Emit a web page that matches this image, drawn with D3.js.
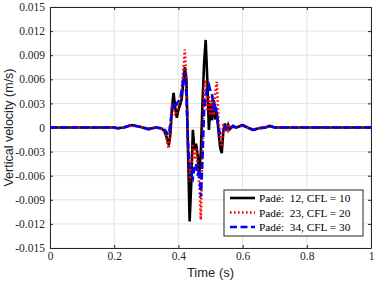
<!DOCTYPE html>
<html>
<head>
<meta charset="utf-8">
<script src="https://cdn.jsdelivr.net/npm/d3@7"></script>
<style>
body { margin: 0; background: #fff; }
</style>
</head>
<body>
<div class="forshow"></div>
<script>
var time = [0, 0.1, 0.2, 0.21, 0.23, 0.254, 0.28, 0.306, 0.33, 0.345,
	0.35, 0.355, 0.36, 0.365, 0.37, 0.375, 0.38, 0.385, 0.39, 0.395,
	0.40, 0.405, 0.41, 0.415, 0.42, 0.425, 0.43, 0.435, 0.44, 0.445,
	0.45, 0.455, 0.46, 0.465, 0.47, 0.475, 0.48, 0.485, 0.49, 0.495,
	0.50, 0.505, 0.51, 0.515, 0.52, 0.525, 0.53, 0.535, 0.54, 0.545,
	0.55, 0.555, 0.56, 0.57, 0.58, 0.6, 0.615, 0.633, 0.65, 0.67, 0.685, 0.7, 0.85, 1]

var pade12 = [0, 0, 0, -0.0001, 0, 0.0003, 0.0001, -0.0002, 0, -0.0001,
	-0.0002, -0.0004, -0.0008, -0.0014, -0.0022, -0.0008, 0.0025, 0.0043, 0.0025, 0.0012,
	0.0022, 0.0028, 0.0035, 0.0055, 0.0075, 0.006, -0.003, -0.0117, -0.007, -0.0003,
	-0.0028, -0.002, -0.0035, -0.0057, -0.003, 0.003, 0.008, 0.0109, 0.006, -0.0003,
	0.003, 0.0009, 0.0034, 0.001, 0.0018, -0.0005, -0.0025, -0.0032, -0.0005, 0.0005,
	-0.0004, 0.0003, -0.0002, 0.0002, 0, 0.0003, 0, -0.0003, -0.0001, 0, 0.0002, 0, 0, 0]

var pade23 = [0, 0, 0, -0.0001, 0, 0.0003, 0.0001, -0.0002, 0, -0.0001,
	-0.0002, -0.0004, -0.0009, -0.0018, -0.0026, -0.001, 0.0026, 0.0022, 0.0015, 0.002,
	0.0028, 0.003, 0.0045, 0.007, 0.0097, 0.006, -0.002, -0.0067, -0.005, -0.002,
	-0.004, -0.0025, -0.005, -0.007, -0.0115, -0.002, 0.005, 0.0059, 0.002, 0.004,
	0.0015, 0.0035, 0.0015, 0.0045, 0.0057, 0.001, -0.0018, -0.0024, 0.0005, -0.0006,
	0.0004, -0.0003, 0.0002, 0.0001, 0, 0.0003, 0, -0.0003, -0.0001, 0, 0.0002, 0, 0, 0]

var pade34 = [0, 0, 0, -0.0001, 0, 0.0003, 0.0001, -0.0002, 0, -0.0001,
	-0.0001, -0.0002, -0.0004, -0.0007, -0.0009, 0.0005, 0.0022, 0.0028, 0.0025, 0.003,
	0.0032, 0.0035, 0.0045, 0.006, 0.0069, 0.004, -0.002, -0.005, -0.0058, -0.0063,
	-0.005, -0.0045, -0.006, -0.0052, -0.0086, -0.004, 0.002, 0.004, 0.0048, 0.0053,
	0.0045, 0.004, 0.0025, 0.003, 0.0015, -0.0002, -0.0007, -0.0005, -0.0003, 0.0001,
	-0.0001, 0.0001, 0, 0.0001, 0, 0.0003, 0, -0.0003, -0.0001, 0, 0.0002, 0, 0, 0]

var xTicks = [0, 0.2, 0.4, 0.6, 0.8, 1]
var yTicks = [-0.015, -0.012, -0.009, -0.006, -0.003, 0, 0.003, 0.006, 0.009, 0.012, 0.015]
var legendLabels = ["Padé:  12, CFL = 10", "Padé:  23, CFL = 20", "Padé:  34, CFL = 30"]

var series = [
	{ name: legendLabels[0], values: pade12, color: "#000", dash: null, width: 2.6 },
	{ name: legendLabels[1], values: pade23, color: "#ff0000", dash: "1.6,2.4", width: 2.6 },
	{ name: legendLabels[2], values: pade34, color: "#0000ff", dash: "7,3.5", width: 2.6 }
]

var W = 374, H = 282
var m = { left: 50, right: 3, top: 7, bottom: 34 }

var svg = d3.select(".forshow").append("svg")
	.attr("width", W)
	.attr("height", H)

var x = d3.scaleLinear().domain([0, 1]).range([m.left, W - m.right])
var y = d3.scaleLinear().domain([-0.015, 0.015]).range([H - m.bottom, m.top])

// grid
svg.append("g").selectAll("line.gx")
	.data(xTicks)
	.enter().append("line")
	.attr("x1", function(d) { return x(d) })
	.attr("x2", function(d) { return x(d) })
	.attr("y1", y(-0.015))
	.attr("y2", y(0.015))
	.attr("stroke", "#e3e3e3")
	.attr("stroke-width", 1)
svg.append("g").selectAll("line.gy")
	.data(yTicks)
	.enter().append("line")
	.attr("x1", x(0))
	.attr("x2", x(1))
	.attr("y1", function(d) { return y(d) })
	.attr("y2", function(d) { return y(d) })
	.attr("stroke", "#e3e3e3")
	.attr("stroke-width", 1)

var fmt = function(d) { return d == 0 ? "0" : d3.format(".3f")(d).replace("−", "-") }
var tickFont = "'Liberation Serif', 'DejaVu Serif', serif"

var xAxis = svg.append("g")
	.attr("transform", "translate(0," + y(-0.015) + ")")
	.call(d3.axisBottom(x).tickValues(xTicks).tickSizeInner(-3).tickSizeOuter(0).tickPadding(4)
		.tickFormat(function(d) { return d == 0 || d == 1 ? d3.format("d")(d) : d3.format(".1f")(d) }))
var yAxis = svg.append("g")
	.attr("transform", "translate(" + x(0) + ",0)")
	.call(d3.axisLeft(y).tickValues(yTicks).tickSizeInner(-3).tickSizeOuter(0).tickPadding(5)
		.tickFormat(fmt))
var xTop = svg.append("g")
	.attr("transform", "translate(0," + y(0.015) + ")")
	.call(d3.axisTop(x).tickValues(xTicks).tickSizeInner(-3).tickSizeOuter(0).tickFormat(""))
var yRight = svg.append("g")
	.attr("transform", "translate(" + x(1) + ",0)")
	.call(d3.axisRight(y).tickValues(yTicks).tickSizeInner(-3).tickSizeOuter(0).tickFormat(""))

svg.selectAll(".domain").attr("stroke", "#262626").attr("stroke-width", 1)
svg.selectAll(".tick line").attr("stroke", "#262626")
svg.selectAll(".tick text")
	.attr("font-family", tickFont)
	.attr("font-size", 11.5)
	.attr("fill", "#262626")

// lines
var line = d3.line()
	.x(function(d, i) { return x(time[i]) })
	.y(function(d) { return y(d) })

var plot = svg.append("g")
plot.selectAll("path")
	.data(series)
	.enter().append("path")
	.attr("d", function(d) { return line(d.values) })
	.attr("fill", "none")
	.attr("stroke", function(d) { return d.color })
	.attr("stroke-width", function(d) { return d.width })
	.attr("stroke-dasharray", function(d) { return d.dash })
	.attr("stroke-linejoin", "miter")

// axis labels
svg.append("text")
	.attr("x", (x(0) + x(1)) / 2)
	.attr("y", 277)
	.attr("text-anchor", "middle")
	.attr("font-family", "'Liberation Sans', Arial, sans-serif")
	.attr("font-size", 13)
	.attr("fill", "#262626")
	.text("Time (s)")
svg.append("text")
	.attr("transform", "translate(13," + ((y(0.015) + y(-0.015)) / 2) + ") rotate(-90)")
	.attr("text-anchor", "middle")
	.attr("font-family", "'Liberation Sans', Arial, sans-serif")
	.attr("font-size", 12.5)
	.attr("fill", "#262626")
	.text("Vertical velocity (m/s)")

// legend
var lg = svg.append("g").attr("transform", "translate(224,190)")
lg.append("rect")
	.attr("width", 139)
	.attr("height", 46)
	.attr("fill", "#fff")
	.attr("stroke", "#262626")
	.attr("stroke-width", 1)
var row = lg.selectAll("g.row")
	.data(series)
	.enter().append("g")
	.attr("transform", function(d, i) { return "translate(0," + (8 + i * 14.5) + ")" })
row.append("line")
	.attr("x1", 6)
	.attr("x2", 31)
	.attr("y1", 0)
	.attr("y2", 0)
	.attr("stroke", function(d) { return d.color })
	.attr("stroke-width", function(d) { return d.width })
	.attr("stroke-dasharray", function(d) { return d.dash })
row.append("text")
	.attr("x", 35)
	.attr("y", 4)
	.attr("font-family", tickFont)
	.attr("font-size", 11.3)
	.attr("fill", "#000")
	.attr("xml:space", "preserve")
	.style("white-space", "pre")
	.text(function(d) { return d.name })
</script>
</body>
</html>
